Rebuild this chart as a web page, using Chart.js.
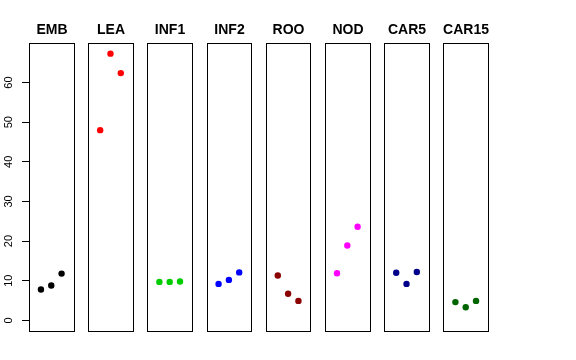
<!DOCTYPE html>
<html>
<head>
<meta charset="utf-8">
<script src="https://cdn.jsdelivr.net/npm/chart.js@4"></script>
<style>
    html, body { margin: 0; padding: 0; background: #fff; }
    canvas { display: block; }
</style>
</head>
<body>
<canvas id="myChart" width="576" height="360"></canvas>
<script>
// * Panels, left to right
const panels = ["EMB", "LEA", "INF1", "INF2", "ROO", "NOD", "CAR5", "CAR15"];

// * Three readings per panel
const emb = [7.8, 8.8, 11.8];
const lea = [48.0, 67.3, 62.4];
const inf1 = [9.7, 9.7, 9.8];
const inf2 = [9.2, 10.2, 12.1];
const roo = [11.3, 6.7, 4.9];
const nod = [11.9, 18.9, 23.6];
const car5 = [12.0, 9.2, 12.2];
const car15 = [4.6, 3.3, 4.9];

const yTicks = [0, 10, 20, 30, 40, 50, 60];

const colors = ["#000000", "#FF0000", "#00CD00", "#0000FF", "#8B0000", "#FF00FF", "#00008B", "#006400"];

const seriesValues = [emb, lea, inf1, inf2, roo, nod, car5, car15];

// * Each panel is 0..4 on its own, padded 4% like R does
const PITCH = 5.742;
const PAD = 0.16;

const allValues = seriesValues.flat();
const yTop = Math.max(...allValues);
const yMin = -0.04 * yTop;
const yMax = yTop * 1.04;

const datasets = seriesValues.map((vals, i) => ({
    label: panels[i],
    data: vals.map((v, j) => ({ x: i * PITCH + j + 1, y: v })),
    backgroundColor: colors[i],
    borderColor: colors[i],
    borderWidth: 0,
    pointRadius: 3.2,
    pointHoverRadius: 3.2,
}));

// * Boxes, panel titles and rotated y labels
const panelFrames = {
    id: "panelFrames",
    beforeDatasetsDraw(chart) {
        const { ctx, chartArea, scales } = chart;
        const x = scales.x;
        const y = scales.y;
        ctx.save();
        ctx.strokeStyle = "#000";
        ctx.lineWidth = 1;
        ctx.fillStyle = "#000";
        ctx.font = "bold 14px 'Liberation Sans', Arial, sans-serif";
        ctx.textAlign = "center";
        ctx.textBaseline = "alphabetic";
        const t = Math.round(chartArea.top) + 0.5;
        const b = Math.round(chartArea.bottom) + 0.5;
        panels.forEach((name, i) => {
            const l = Math.round(x.getPixelForValue(i * PITCH - PAD)) + 0.5;
            const r = Math.round(x.getPixelForValue(i * PITCH + 4 + PAD)) + 0.5;
            ctx.strokeRect(l, t, r - l, b - t);
            ctx.fillText(name, (l + r) / 2, chartArea.top - 9);
        });

        ctx.font = "11px 'Liberation Sans', Arial, sans-serif";
        ctx.textBaseline = "middle";
        yTicks.forEach((v) => {
            const py = y.getPixelForValue(v);
            ctx.save();
            ctx.translate(9, py);
            ctx.rotate(-Math.PI / 2);
            ctx.fillText(String(v), 0, 0);
            ctx.restore();
        });
        ctx.restore();
    },
};

const config = {
    type: "scatter",
    data: { datasets },
    options: {
        responsive: false,
        animation: false,
        devicePixelRatio: 1,
        layout: { padding: { left: 0, top: 43, right: 88, bottom: 29 } },
        plugins: {
            legend: { display: false },
            tooltip: { enabled: false },
        },
        scales: {
            x: {
                type: "linear",
                display: false,
                min: -PAD,
                max: 7 * PITCH + 4 + PAD,
            },
            y: {
                type: "linear",
                min: yMin,
                max: yMax,
                afterBuildTicks: (s) => {
                    s.ticks = yTicks.map((v) => ({ value: v }));
                },
                afterFit: (s) => {
                    s.width = 29;
                },
                ticks: { display: false },
                grid: { drawOnChartArea: false, drawTicks: true, tickLength: 7, color: "#000" },
                border: { display: false },
            },
        },
    },
    plugins: [panelFrames],
};

const ctx = document.getElementById("myChart").getContext("2d");
const chart = new Chart(ctx, config);
</script>
</body>
</html>
